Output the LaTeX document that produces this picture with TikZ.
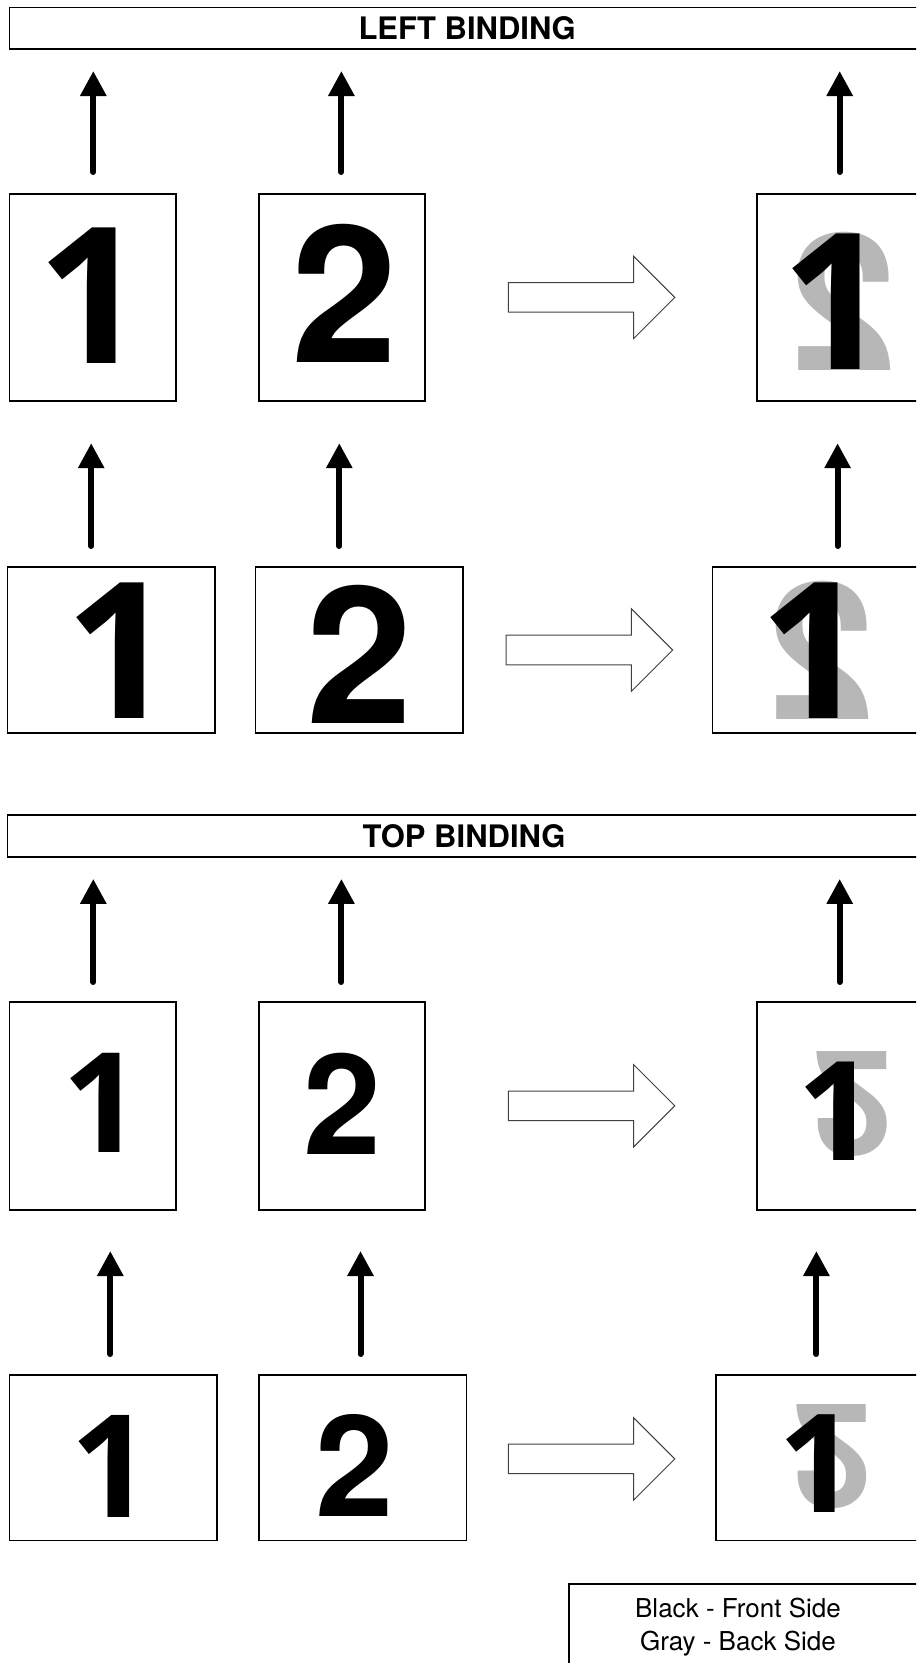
\documentclass[tikz,border=0pt]{standalone}
\usepackage{fontspec}
\setmainfont{TeX Gyre Heros}
\newfontfamily\onefont{Open Sans}
\usetikzlibrary{arrows.meta,shapes.arrows}
\definecolor{backgray}{RGB}{183,183,183}
\definecolor{outlinegray}{RGB}{64,64,64}

\begin{document}
\begin{tikzpicture}[x=1pt,y=-1pt,
                    titlebar/.style={draw, line width=1.8pt, minimum height=41.4pt, inner sep=0pt,
                                     font=\fontsize{31}{31}\selectfont\bfseries},
                    sheet/.style 2 args={draw, line width=1.8pt, minimum width=#1, minimum height=#2,
                                         inner sep=0pt},
                    frontdigit/.style={inner sep=0pt, font=\fontsize{#1}{#1}\selectfont\bfseries},
                    frontone/.style={inner sep=0pt, font=\onefont\fontsize{#1}{#1}\selectfont\bfseries},
                    backdigit/.style={frontdigit=#1, text=backgray},
                    upstroke/.style={line width=6pt, line cap=round,
                                     -{Triangle[width=25pt,length=25pt]}},
                    turnarrow/.style={single arrow, draw=outlinegray, line width=1pt, anchor=tail,
                                      minimum height=166.5pt, single arrow head extend=26.5pt,
                                      inner sep=14.3pt},
                    keytext/.style={align=center, font=\fontsize{26}{33}\selectfont}
                   ]
  \clip (0,0) rectangle (916,1663);

  % left binding
  \node[titlebar, minimum width=915.5pt] (leftTitle) at (467.2,28.1) {LEFT BINDING};

  \draw[upstroke] (93.3,172) coordinate (leftBase1a) -- (93.3,71) coordinate (leftTip1a);
  \draw[upstroke] (341.4,172) coordinate (leftBase1b) -- (341.4,71) coordinate (leftTip1b);
  \draw[upstroke] (839.7,172) coordinate (leftBase1c) -- (839.7,71) coordinate (leftTip1c);

  \node[sheet={166.5pt}{206.7pt}] (leftA1) at (92.75,297.35) {};
  \node[sheet={166.5pt}{206.7pt}] (leftB1) at (341.9,297.35) {};
  \node[sheet={166.5pt}{206.7pt}] (leftC1) at (840.25,297.35) {};
  \node[frontone=190] (numA1) at (92,296) {1};
  \node[frontdigit=191] (numB1) at (345,293) {2};
  \node[backdigit=191] (backC1) at (843,301.5) {\reflectbox{2}};
  \node[frontone=190] (numC1) at (836,301.5) {1};
  \node[turnarrow] (turnLeft1) at (507.8,297.4) {};

  \draw[upstroke] (91.2,546) coordinate (leftBase2a) -- (91.2,443.2) coordinate (leftTip2a);
  \draw[upstroke] (339.3,546) coordinate (leftBase2b) -- (339.3,443.2) coordinate (leftTip2b);
  \draw[upstroke] (837.6,546) coordinate (leftBase2c) -- (837.6,443.2) coordinate (leftTip2c);

  \node[sheet={207.8pt}{165.4pt}] (leftA2) at (111.3,649.9) {};
  \node[sheet={207.8pt}{165.4pt}] (leftB2) at (359.4,649.9) {};
  \node[sheet={207.8pt}{165.4pt}] (leftC2) at (816.4,649.9) {};
  \node[frontone=190] (numA2) at (120,650.4) {1};
  \node[frontdigit=191] (numB2) at (359.6,654) {2};
  \node[backdigit=191] (backC2) at (821,650.5) {\reflectbox{2}};
  \node[frontone=190] (numC2) at (813.7,650.5) {1};
  \node[turnarrow] (turnLeft2) at (505.7,650) {};

  % top binding
  \node[titlebar, minimum width=913pt] (topTitle) at (464,836) {TOP BINDING};

  \draw[upstroke] (93.3,982) coordinate (topBase3a) -- (93.3,878.9) coordinate (topTip3a);
  \draw[upstroke] (341.4,982) coordinate (topBase3b) -- (341.4,878.9) coordinate (topTip3b);
  \draw[upstroke] (839.7,982) coordinate (topBase3c) -- (839.7,878.9) coordinate (topTip3c);

  \node[sheet={166.5pt}{207.8pt}] (topA3) at (92.75,1105.8) {};
  \node[sheet={166.5pt}{207.8pt}] (topB3) at (341.9,1105.8) {};
  \node[sheet={166.5pt}{207.8pt}] (topC3) at (840.25,1105.8) {};
  \node[frontone=139] (numA3) at (101.8,1102.6) {1};
  \node[frontdigit=140] (numB3) at (342.4,1104.2) {2};
  \node[backdigit=145] (backC3) at (853,1103.5) {\scalebox{1}[-1]{2}};
  \node[frontone=138] (numC3) at (836.8,1111) {1};
  \node[turnarrow] (turnTop3) at (507.8,1105.8) {};

  \draw[upstroke] (110.3,1354) coordinate (topBase4a) -- (110.3,1251) coordinate (topTip4a);
  \draw[upstroke] (360.5,1354) coordinate (topBase4b) -- (360.5,1251) coordinate (topTip4b);
  \draw[upstroke] (816.4,1354) coordinate (topBase4c) -- (816.4,1251) coordinate (topTip4c);

  \node[sheet={207.8pt}{165.5pt}] (topA4) at (113.4,1457.75) {};
  \node[sheet={207.8pt}{165.5pt}] (topB4) at (362.6,1457.75) {};
  \node[sheet={207.8pt}{165.5pt}] (topC4) at (819.5,1457.75) {};
  \node[frontone=143] (numA4) at (111.3,1466.8) {1};
  \node[frontdigit=141] (numB4) at (354.6,1465.7) {2};
  \node[backdigit=144] (backC4) at (833,1456.5) {\scalebox{1}[-1]{2}};
  \node[frontone=137] (numC4) at (817.3,1464) {1};
  \node[turnarrow] (turnTop4) at (507.8,1458.9) {};

  % key
  \node[draw, line width=1.8pt, anchor=north west, minimum width=400pt, minimum height=120pt]
    (keyFrame) at (568,1583) {};
  \node[keytext] (key) at (738,1626.7) {Black - Front Side\\Gray - Back Side};
\end{tikzpicture}
\end{document}
